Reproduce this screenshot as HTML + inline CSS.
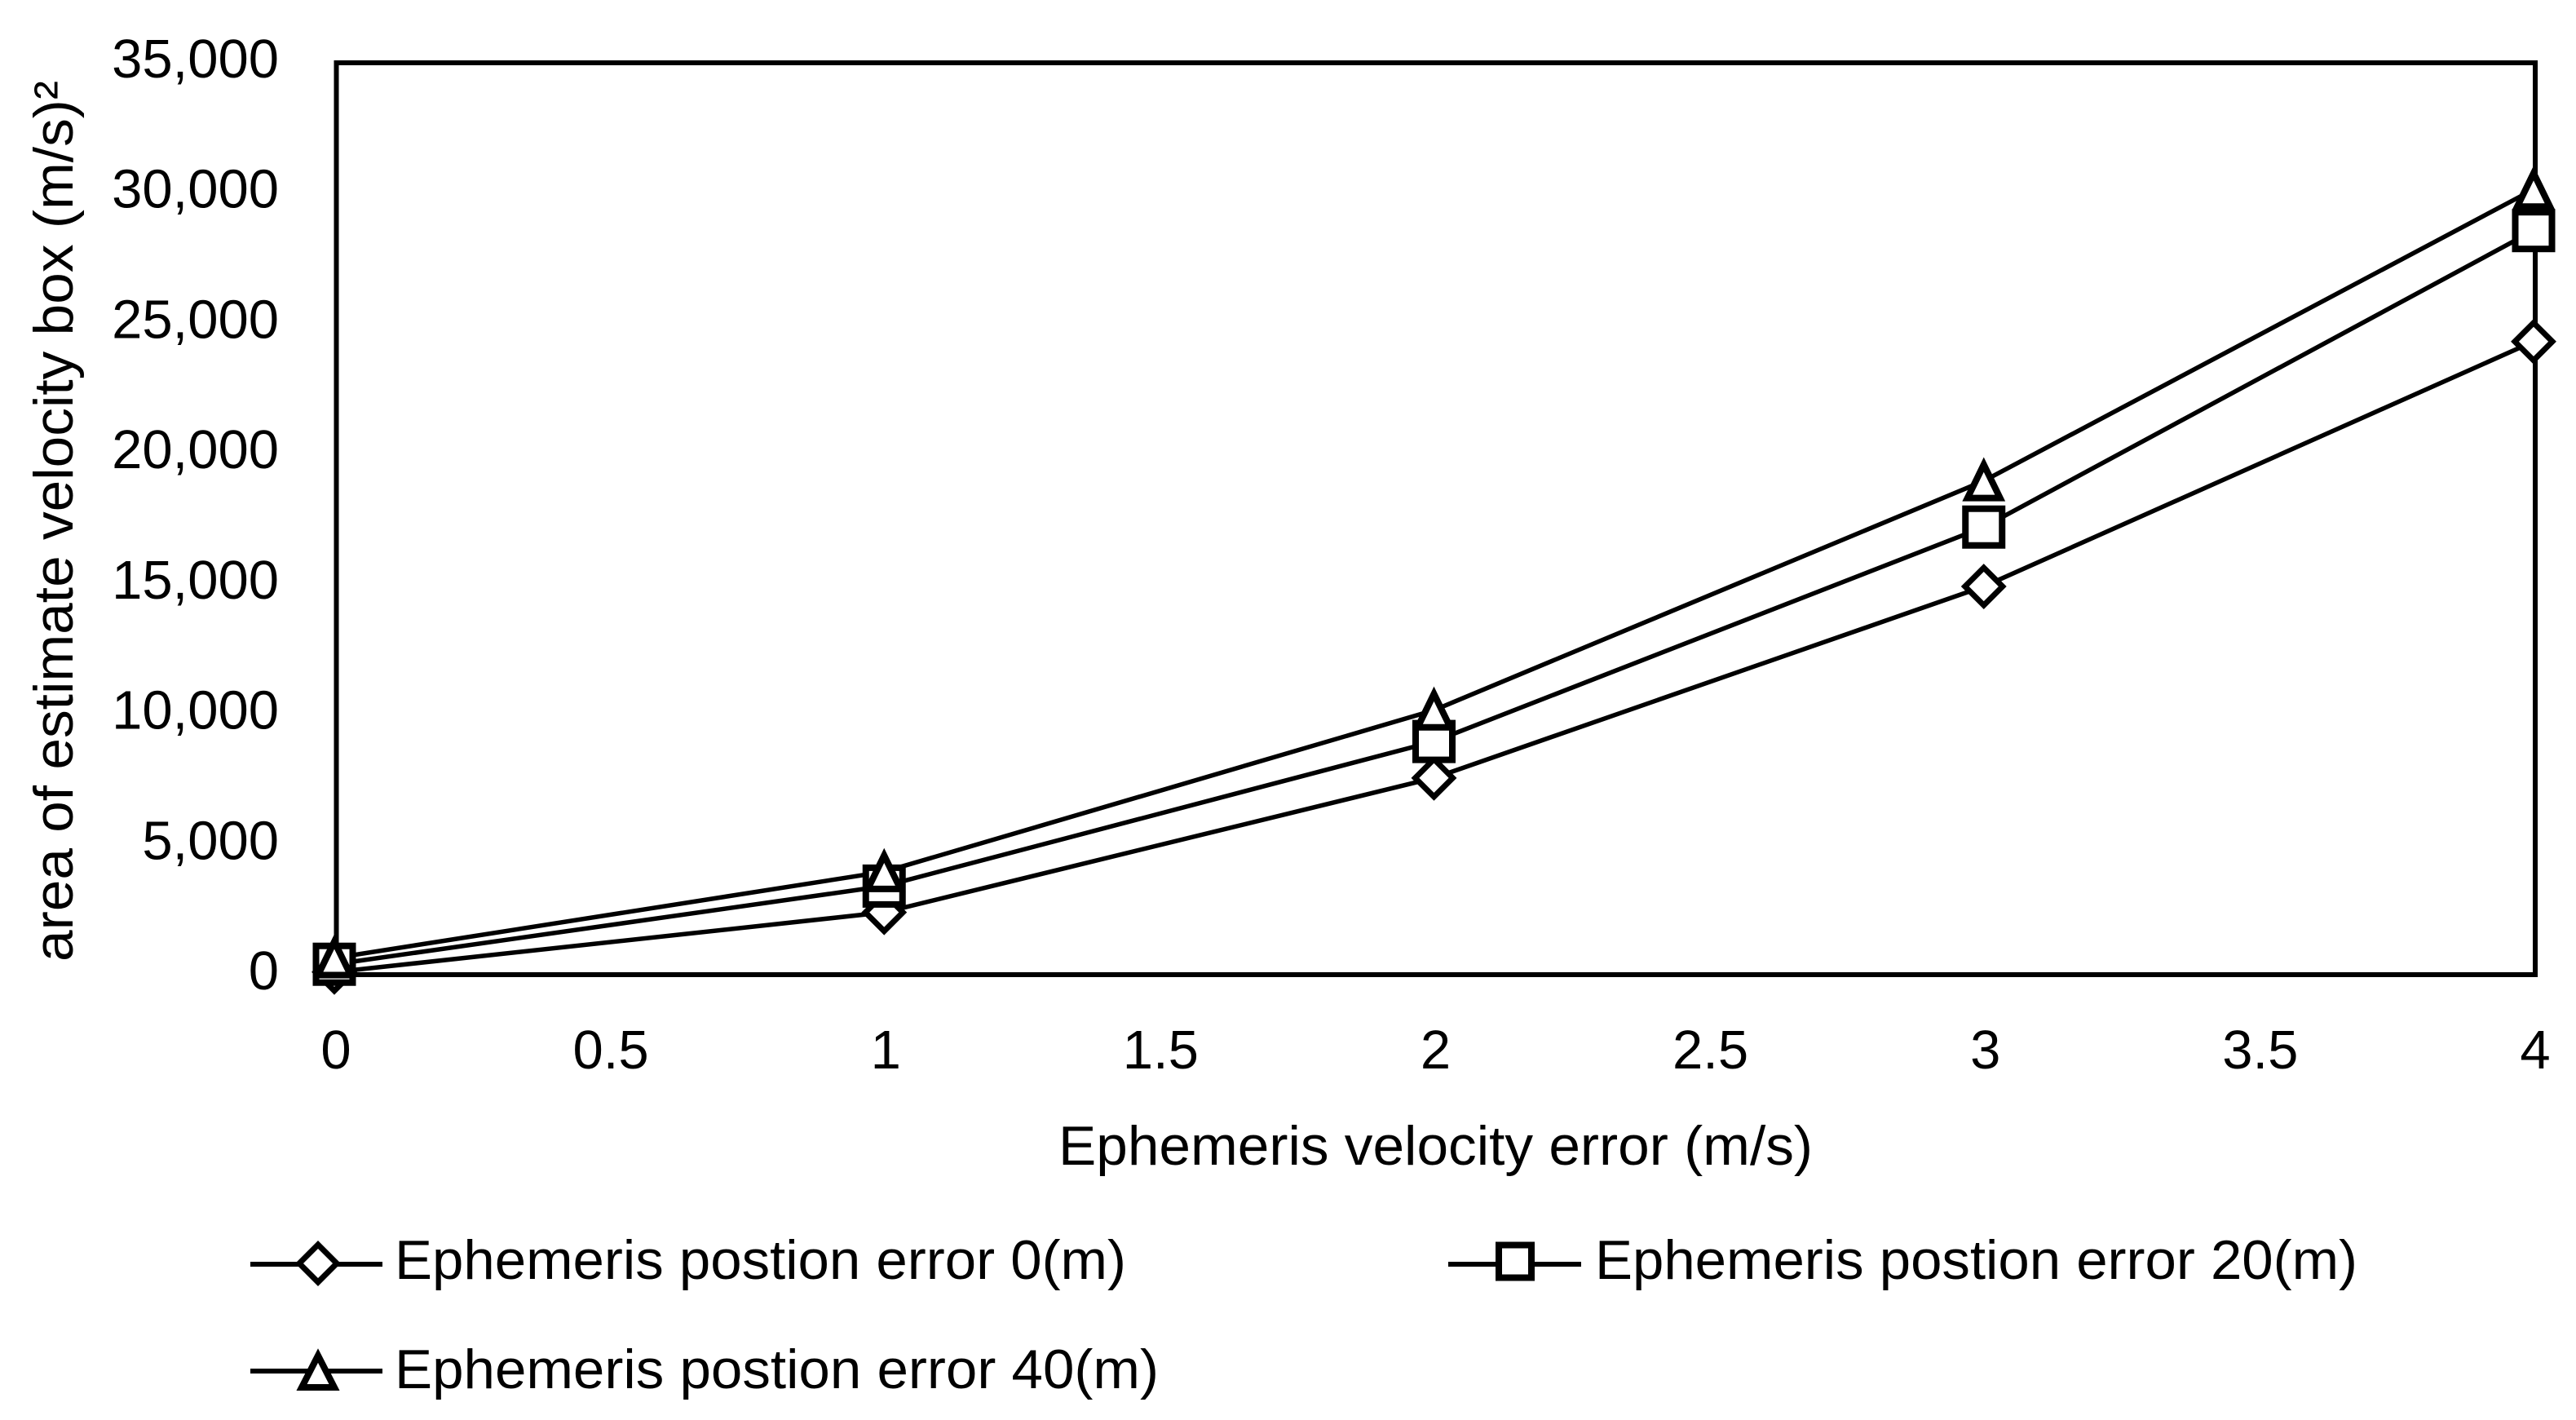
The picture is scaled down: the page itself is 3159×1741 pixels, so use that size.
<!DOCTYPE html>
<html lang="en">
<head>
<meta charset="utf-8">
<title>Area of estimate velocity box vs ephemeris velocity error</title>
<style>
  html, body { margin: 0; padding: 0; background: #fff; }
  svg { display: block; }
  text { font-family: "Liberation Sans", sans-serif; fill: #000; }
</style>
</head>
<body>
<svg id="chart" xmlns="http://www.w3.org/2000/svg" width="3159" height="1741" viewBox="0 0 3159 1741">
  <rect x="0" y="0" width="3159" height="1741" fill="#fff"/>
  <rect x="412.5" y="77" width="2696.5" height="1118" fill="none" stroke="#000" stroke-width="6"/>
  <g id="y-ticks"></g>
  <g id="x-ticks"></g>
  <g id="series"></g>
  <text transform="translate(89,1179) rotate(-90)" font-size="68" textLength="1080" lengthAdjust="spacingAndGlyphs">area of estimate velocity box (m/s)²</text>
  <text x="1298" y="1428" font-size="68" textLength="925" lengthAdjust="spacingAndGlyphs">Ephemeris velocity error (m/s)</text>
  <g>
    <g>
      <line x1="307" y1="1550" x2="469" y2="1550" stroke="#000" stroke-width="6"/>
      <polygon points="390,1526 413,1549 390,1572 367,1549" fill="#fff" stroke="#000" stroke-width="7"/>
      <text x="484" y="1568" font-size="68" textLength="897" lengthAdjust="spacingAndGlyphs">Ephemeris postion error 0(m)</text>
    </g>
    <g>
      <line x1="1776" y1="1550" x2="1939" y2="1550" stroke="#000" stroke-width="6"/>
      <rect x="1838" y="1526.5" width="40" height="40" fill="#fff" stroke="#000" stroke-width="8"/>
      <text x="1956" y="1568" font-size="68" textLength="935" lengthAdjust="spacingAndGlyphs">Ephemeris postion error 20(m)</text>
    </g>
    <g>
      <line x1="307" y1="1681" x2="469" y2="1681" stroke="#000" stroke-width="6"/>
      <polygon points="390,1662 410,1701 370,1701" fill="#fff" stroke="#000" stroke-width="8"/>
      <text x="484" y="1702" font-size="68" textLength="937" lengthAdjust="spacingAndGlyphs">Ephemeris postion error 40(m)</text>
    </g>
  </g>
</svg>
<script>
const xCategories = [0, 1, 2, 3, 4];
const series0m = [100, 2390, 7550, 14900, 24300];
const series20m = [400, 3400, 8950, 17180, 28560];
const series40m = [640, 3950, 10150, 18950, 30140];
const yTickValues = [0, 5000, 10000, 15000, 20000, 25000, 30000, 35000];
const yTickLabels = ["0", "5,000", "10,000", "15,000", "20,000", "25,000", "30,000", "35,000"];
const xTickValues = [0, 0.5, 1, 1.5, 2, 2.5, 3, 3.5, 4];
const xTickLabels = ["0", "0.5", "1", "1.5", "2", "2.5", "3", "3.5", "4"];

const NS = "http://www.w3.org/2000/svg";
function xScale(v) { return 410 + v * (3107 - 410) / 4; }
function yScale(v) { return 1195 - v * 1118 / 35000; }
function make(tag, parent) {
  const el = document.createElementNS(NS, tag);
  parent.appendChild(el);
  return el;
}

const yTickGroup = document.getElementById("y-ticks");
yTickValues.forEach(function (v, i) {
  const t = make("text", yTickGroup);
  
  
  t.setAttribute("x", 342);
  t.setAttribute("y", yScale(v) + 18);
  t.setAttribute("font-size", 67);
  t.setAttribute("text-anchor", "end");
  t.textContent = yTickLabels[i];
});

const xTickGroup = document.getElementById("x-ticks");
xTickValues.forEach(function (v, i) {
  const t = make("text", xTickGroup);
  
  
  t.setAttribute("x", xScale(v) + 2);
  t.setAttribute("y", 1310);
  t.setAttribute("font-size", 67);
  t.setAttribute("text-anchor", "middle");
  t.textContent = xTickLabels[i];
});

const seriesGroup = document.getElementById("series");

function drawLine(values) {
  const p = make("polyline", seriesGroup);
  
  
  p.setAttribute("points", values.map(function (v, i) {
    return xScale(xCategories[i]) + "," + yScale(v);
  }).join(" "));
  p.setAttribute("fill", "none");
  p.setAttribute("stroke", "#000");
  p.setAttribute("stroke-width", 5.5);
}

function drawDiamonds(values) {
  values.forEach(function (v, i) {
    const cx = xScale(xCategories[i]), cy = yScale(v);
    const m = make("polygon", seriesGroup);
    
    
    m.setAttribute("points", [cx, cy - 23, cx + 23, cy, cx, cy + 23, cx - 23, cy].join(" "));
    m.setAttribute("fill", "#fff");
    m.setAttribute("stroke", "#000");
    m.setAttribute("stroke-width", 7);
  });
}

function drawSquares(values) {
  values.forEach(function (v, i) {
    const cx = xScale(xCategories[i]), cy = yScale(v);
    const m = make("rect", seriesGroup);
    
    
    m.setAttribute("x", cx - 22.5);
    m.setAttribute("y", cy - 22.5);
    m.setAttribute("width", 45);
    m.setAttribute("height", 45);
    m.setAttribute("fill", "#fff");
    m.setAttribute("stroke", "#000");
    m.setAttribute("stroke-width", 8);
  });
}

function drawTriangles(values) {
  values.forEach(function (v, i) {
    const cx = xScale(xCategories[i]), cy = yScale(v);
    const m = make("polygon", seriesGroup);
    
    
    m.setAttribute("points", [cx, cy - 20, cx + 20, cy + 21, cx - 20, cy + 21].join(" "));
    m.setAttribute("fill", "#fff");
    m.setAttribute("stroke", "#000");
    m.setAttribute("stroke-width", 8);
  });
}

drawLine(series0m);
drawLine(series20m);
drawLine(series40m);
drawDiamonds(series0m);
drawSquares(series20m);
drawTriangles(series40m);
</script>
</body>
</html>
